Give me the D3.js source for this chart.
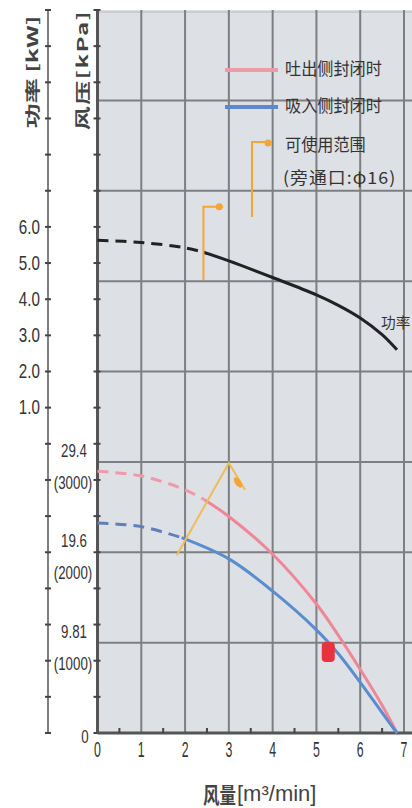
<!DOCTYPE html>
<html><head><meta charset="utf-8">
<script src="https://cdn.jsdelivr.net/npm/d3@7"></script>
<style>
html,body{margin:0;padding:0;background:#fff;}
svg{display:block;}
</style></head>
<body>
<svg id="c" width="412" height="808"></svg>
<script>
// ---- data ----
const flowTicks = [0, 1, 2, 3, 4, 5, 6, 7];
const flowMinorTicks = [0.5, 1.5, 2.5, 3.5, 4.5, 5.5, 6.5];
const powerTicks = [1, 2, 3, 4, 5, 6];
const powerTickLabels = ["1.0", "2.0", "3.0", "4.0", "5.0", "6.0"];
const pressureTicks = [9.81, 19.6, 29.4];
const pressureTickLabels = ["9.81", "19.6", "29.4"];
const mmAqTickLabels = ["(1000)", "(2000)", "(3000)"];

// discharge side closed (kPa)
const dischargeFlow = [0, 1, 2, 2.45, 3, 4, 5, 5.5, 6, 6.5, 6.84];
const dischargeP    = [28.4, 27.9, 26.4, 25.3, 23.5, 19.4, 14.0, 10.6, 6.9, 3.0, 0];
const dischargeDashEnd = 3; // index where solid begins
// suction side closed (kPa)
const suctionFlow = [0, 1, 1.92, 3, 4, 5, 5.5, 6, 6.5, 6.84];
const suctionP    = [22.8, 22.4, 21.2, 18.9, 15.4, 11.2, 8.6, 5.5, 2.2, 0];
const suctionDashEnd = 2;
// power (kW)
const powerFlow = [0, 1, 2, 2.42, 3, 4, 5, 5.5, 6, 6.5, 6.84];
const powerKW   = [5.63, 5.57, 5.42, 5.3, 5.06, 4.6, 4.12, 3.83, 3.48, 3.02, 2.6];
const powerDashEnd = 3;

// usable range markers
const rangePressureFlow = [1.81, 3.0, 3.37];
const rangePressureP    = [19.3, 29.3, 26.4];
const rangePressureDot  = [3.21, 27.2];
const rangePowerFlow = [2.42, 2.42, 2.87];
const rangePowerKW   = [4.53, 6.56, 6.56];
const rangePowerDot  = [2.78, 6.56];
// rated point
const ratedPoint = [5.27, 8.8];

// ---- layout ----
const svg = d3.select("#c");
const L = 97.5, R = 412, T = 10, B = 733;
const x = d3.scaleLinear().domain([0, 7]).range([L, 404]);
const yP = d3.scaleLinear().domain([0, 78.48]).range([B, T]);
const yW = d3.scaleLinear().domain([-8, 12]).range([B, T]);

const LAT = "'Liberation Sans', Arial, sans-serif";
const CJK = "'Noto Sans CJK SC', 'Noto Sans', sans-serif";

function sText(x0, y0, str, size, sx, anchor, opts) {
  opts = opts || {};
  return svg.append("text")
    .attr("transform", `translate(${x0},${y0}) scale(${sx},1)` + (opts.rot ? " rotate(-90)" : ""))
    .attr("text-anchor", anchor)
    .attr("dominant-baseline", "central")
    .attr("font-family", opts.font || LAT)
    .attr("font-size", size)
    .attr("font-weight", opts.weight || "normal")
    .attr("letter-spacing", opts.ls || 0)
    .attr("fill", opts.fill || "#333")
    .text(str);
}

// plot background
svg.append("rect").attr("x", L).attr("y", T).attr("width", R - L).attr("height", B - T).attr("fill", "#dde0e5");
svg.append("line").attr("x1", L).attr("x2", R).attr("y1", T + 2).attr("y2", T + 2).attr("stroke", "#c4c7cc").attr("stroke-width", 1.5);

// grid
const grid = svg.append("g").attr("stroke", "#7d7f82").attr("stroke-width", 2);
flowTicks.slice(1).forEach(v => grid.append("line").attr("x1", x(v)).attr("x2", x(v)).attr("y1", T).attr("y2", B));
d3.range(1, 8).forEach(k => grid.append("line").attr("x1", L).attr("x2", R).attr("y1", yP(k * 9.81)).attr("y2", yP(k * 9.81)));

// power axis (left)
svg.append("line").attr("x1", 48).attr("x2", 48).attr("y1", T).attr("y2", B).attr("stroke", "#555").attr("stroke-width", 1.5);
d3.range(-8, 13).forEach(v => svg.append("line").attr("x1", 45).attr("x2", 51).attr("y1", yW(v)).attr("y2", yW(v)).attr("stroke", "#444").attr("stroke-width", 2));
powerTicks.forEach((v, i) => sText(40, yW(v), powerTickLabels[i], 20, 0.76, "end"));

// pressure axis
svg.append("line").attr("x1", L).attr("x2", L).attr("y1", T).attr("y2", B).attr("stroke", "#555").attr("stroke-width", 3);
d3.range(0, 21).forEach(k => svg.append("line").attr("x1", L - 4).attr("x2", L + 3).attr("y1", yP(k * 3.924)).attr("y2", yP(k * 3.924)).attr("stroke", "#444").attr("stroke-width", 2));
pressureTicks.forEach((v, i) => {
  sText(74, yP(v) - 12, pressureTickLabels[i], 19, 0.7, "middle");
  sText(73, yP(v) + 20, mmAqTickLabels[i], 19, 0.7, "middle");
});
sText(85, yP(0) + 3, "0", 19, 0.7, "middle");

// x axis
svg.append("line").attr("x1", L).attr("x2", R).attr("y1", B).attr("y2", B).attr("stroke", "#555").attr("stroke-width", 3);
flowMinorTicks.forEach(v => svg.append("line").attr("x1", x(v)).attr("x2", x(v)).attr("y1", B).attr("y2", B - 5).attr("stroke", "#444").attr("stroke-width", 2));
flowTicks.forEach(v => sText(x(v), 750, String(v), 22, 0.56, "middle"));

// axis titles
sText(31, 72, "功率 [kW]", 25, 0.6, "middle", { rot: true, font: CJK, weight: "bold", fill: "#444" });
sText(82, 70, "风压[kPa]", 24, 0.62, "middle", { rot: true, font: CJK, weight: "bold", fill: "#444", ls: 1.5 });
sText(203, 793, "风量", 22, 0.75, "start", { font: CJK, weight: "bold", fill: "#444" });
sText(237, 793, "[m³/min]", 22, 1.0, "start", { fill: "#444" });

// curves
const curve = d3.curveCatmullRom.alpha(0.5);
const lineP = d3.line().x(d => x(d[0])).y(d => yP(d[1])).curve(curve);
const lineW = d3.line().x(d => x(d[0])).y(d => yW(d[1])).curve(curve);
function split(fx, fy, idx) {
  const pts = fx.map((v, i) => [v, fy[i]]);
  return [pts.slice(0, idx + 1), pts.slice(idx)];
}
const [dD, dS] = split(dischargeFlow, dischargeP, dischargeDashEnd);
const [sD, sS] = split(suctionFlow, suctionP, suctionDashEnd);
const [wD, wS] = split(powerFlow, powerKW, powerDashEnd);

svg.append("path").attr("d", lineP(dD)).attr("fill", "none").attr("stroke", "#ee9aaa").attr("stroke-width", 3).attr("stroke-dasharray", "11,7");
svg.append("path").attr("d", lineP(dS)).attr("fill", "none").attr("stroke", "#ef8797").attr("stroke-width", 3);
svg.append("path").attr("d", lineP(sD)).attr("fill", "none").attr("stroke", "#5f7fb8").attr("stroke-width", 3).attr("stroke-dasharray", "11,7");
svg.append("path").attr("d", lineP(sS)).attr("fill", "none").attr("stroke", "#5a8cd0").attr("stroke-width", 3);
svg.append("path").attr("d", lineW(wD)).attr("fill", "none").attr("stroke", "#222").attr("stroke-width", 3).attr("stroke-dasharray", "11,7");
svg.append("path").attr("d", lineW(wS)).attr("fill", "none").attr("stroke", "#222").attr("stroke-width", 3);

sText(381, 321, "功率", 15, 0.98, "start", { font: CJK, fill: "#333" });

// usable range markers (orange)
const ORG = "#f3a535";
svg.append("path").attr("d", d3.line()(rangePressureFlow.map((v, i) => [x(v), yP(rangePressureP[i])])))
  .attr("fill", "none").attr("stroke", "#efbd55").attr("stroke-width", 2);
svg.append("ellipse").attr("cx", x(rangePressureDot[0])).attr("cy", yP(rangePressureDot[1])).attr("rx", 6).attr("ry", 3)
  .attr("transform", `rotate(55,${x(rangePressureDot[0])},${yP(rangePressureDot[1])})`).attr("fill", ORG);
svg.append("path").attr("d", d3.line()(rangePowerFlow.map((v, i) => [x(v), yW(rangePowerKW[i])])))
  .attr("fill", "none").attr("stroke", ORG).attr("stroke-width", 2);
svg.append("circle").attr("cx", x(rangePowerDot[0])).attr("cy", yW(rangePowerDot[1])).attr("r", 3.5).attr("fill", ORG);

// rated point
svg.append("rect").attr("x", x(ratedPoint[0]) - 6.5).attr("y", yP(ratedPoint[1]) - 10).attr("width", 13).attr("height", 20)
  .attr("rx", 4).attr("fill", "#e8323e");

// legend
svg.append("line").attr("x1", 225).attr("x2", 278).attr("y1", 70).attr("y2", 70).attr("stroke", "#ef9aa8").attr("stroke-width", 4);
svg.append("line").attr("x1", 225).attr("x2", 278).attr("y1", 107).attr("y2", 107).attr("stroke", "#5f86d0").attr("stroke-width", 4);
svg.append("path").attr("d", "M252,217 V142 H272").attr("fill", "none").attr("stroke", ORG).attr("stroke-width", 2);
svg.append("circle").attr("cx", 268).attr("cy", 143).attr("r", 3.5).attr("fill", ORG);
sText(285, 68, "吐出侧封闭时", 17, 0.95, "start", { font: CJK });
sText(285, 105, "吸入侧封闭时", 17, 0.95, "start", { font: CJK });
sText(285, 144, "可使用范围", 17, 0.95, "start", { font: CJK });
sText(283, 177, "(旁通口:φ16)", 17, 1.05, "start", { font: CJK, ls: 1 });
</script>
</body></html>
